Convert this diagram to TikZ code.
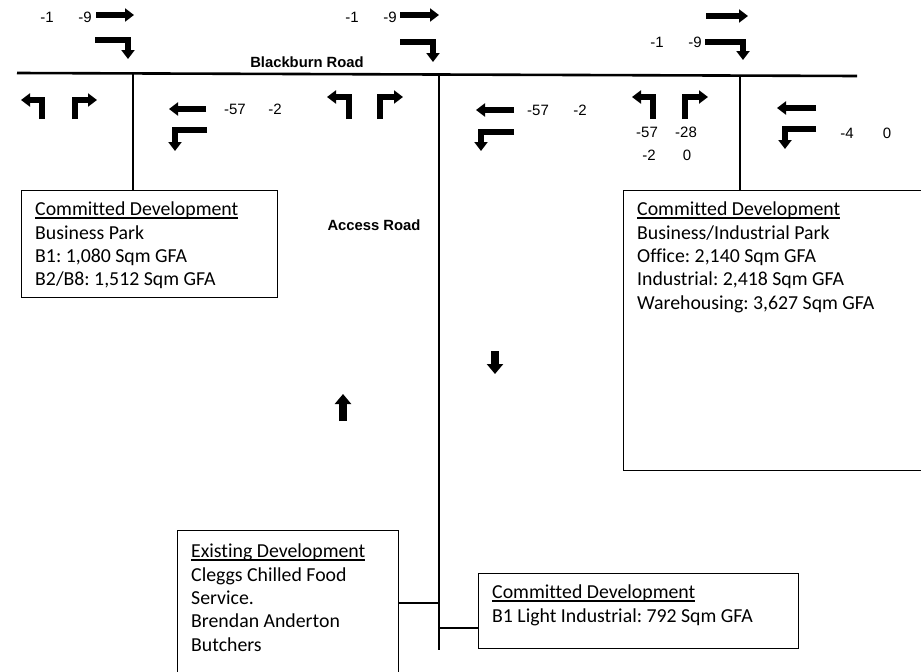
\documentclass[tikz,border=0pt]{standalone}
\usepackage{fontspec}
\setmainfont{Carlito}[Ligatures=NoCommon]
\newfontfamily\arialf{Liberation Sans}
\usetikzlibrary{arrows.meta,calc}
\frenchspacing
\newcommand{\myul}[1]{\setbox0\hbox{#1}\leavevmode\rlap{\rule[-2.6pt]{\wd0}{1.2pt}}\box0}
\tikzset{
 road/.style={line width=2.6pt},
 conn/.style={line width=2.6pt},
 devbox/.style={draw, line width=1.3pt, inner sep=0pt, anchor=north west},
 boxtext/.style={anchor=north west, inner sep=0pt, align=left, font=\frenchspacing\fontsize{19.8}{23.3}\selectfont},
 num/.style={inner sep=0pt, font=\arialf\fontsize{15}{18}\selectfont},
 roadname/.style={inner sep=0pt, font=\arialf\bfseries\fontsize{14.8}{18}\selectfont},
 tarrow/.style={line width=6pt, line join=miter, -{Triangle[length=9pt,width=13pt]}},
 varrow/.style={line width=8pt, -{Triangle[length=10pt,width=16pt]}},
}
\begin{document}
\begin{tikzpicture}[x=1pt,y=-1pt]
\useasboundingbox (0,0) rectangle (921,672);
% road coordinates
\coordinate (rw) at (17,73);
\coordinate (re) at (857,76);
\coordinate (j1) at (133,73.4);
\coordinate (j2) at (439,74.5);
\coordinate (j3) at (740,75.6);
\coordinate (ae) at (439,650);
\coordinate (mid3) at (439,603);
\coordinate (mid4) at (439,628);
% boxes
\node[devbox, minimum width=256pt, minimum height=107pt] (box1) at (21,190) {};
\node[devbox, minimum width=317pt, minimum height=280pt] (box2) at (623,190) {};
\node[devbox, minimum width=221pt, minimum height=160pt] (box3) at (177,530) {};
\node[devbox, minimum width=320pt, minimum height=75pt] (box4) at (478,573) {};
\node[boxtext] (t1) at (35,202) {\myul{Committed Development}\\Business Park\\B1: 1,080 Sqm GFA\\B2/B8: 1,512 Sqm GFA};
\node[boxtext] (t2) at (637,202) {\myul{Committed Development}\\Business/Industrial Park\\Office: 2,140 Sqm GFA\\Industrial: 2,418 Sqm GFA\\Warehousing: 3,627 Sqm GFA};
\node[boxtext] (t3) at (191,544) {\myul{Existing Development}\\Cleggs Chilled Food\\Service.\\Brendan Anderton\\Butchers};
\node[boxtext] (t4) at (492,585) {\myul{Committed Development}\\B1 Light Industrial: 792 Sqm GFA};
% roads
\draw[road] (rw) -- (re);
\draw[road] (j1) -- (j1 |- box1.north);
\draw[road] (j3) -- (j3 |- box2.north);
\draw[road] (j2) -- (ae);
\draw[conn] (box3.east |- mid3) -- (mid3);
\draw[conn] (mid4) -- (box4.west |- mid4);
% road names
\node[roadname] (bname) at (307,62) {Blackburn Road};
\node[roadname] (aname) at (374,225) {Access Road};
% left junction
\draw[tarrow] (96,15) -- (134,15);
\draw[tarrow] (95,40) -- (128,40) -- (128,59);
\node[num] (n1a) at (47,17) {-1};
\node[num] (n1b) at (85,17) {-9};
\draw[tarrow] (42,119) -- (42,100) -- (21,100);
\draw[tarrow] (75,119) -- (75,100) -- (97,100);
\draw[tarrow] (206,109) -- (169,109);
\draw[tarrow] (207,130) -- (175,130) -- (175,151);
\node[num] (n1c) at (235,109) {-57};
\node[num] (n1d) at (275,109) {-2};
% middle junction
\draw[tarrow] (400,15) -- (439,15);
\draw[tarrow] (400,42) -- (433,42) -- (433,62);
\node[num] (n2a) at (352,17) {-1};
\node[num] (n2b) at (390,17) {-9};
\draw[tarrow] (349,119) -- (349,97) -- (327,97);
\draw[tarrow] (380,119) -- (380,97) -- (403,97);
\draw[tarrow] (514,110) -- (476,110);
\draw[tarrow] (514,132) -- (481,132) -- (481,151);
\node[num] (n2c) at (538,110) {-57};
\node[num] (n2d) at (580,110) {-2};
% right junction
\draw[tarrow] (706,16) -- (748,16);
\draw[tarrow] (705,42) -- (743,42) -- (743,60);
\node[num] (n3a) at (657,42) {-1};
\node[num] (n3b) at (695,42) {-9};
\draw[tarrow] (653,119) -- (653,97) -- (632,97);
\draw[tarrow] (685,119) -- (685,97) -- (708,97);
\node[num] (n3c) at (647,132) {-57};
\node[num] (n3d) at (686,132) {-28};
\node[num] (n3e) at (649,155) {-2};
\node[num] (n3f) at (687,155) {0};
\draw[tarrow] (816,108) -- (777,108);
\draw[tarrow] (816,129) -- (785,129) -- (785,149);
\node[num] (n3g) at (847,133) {-4};
\node[num] (n3h) at (887,133) {0};
% access road arrows
\draw[varrow] (343,421) -- (343,394);
\draw[varrow] (495,351) -- (495,374);
\end{tikzpicture}
\end{document}
